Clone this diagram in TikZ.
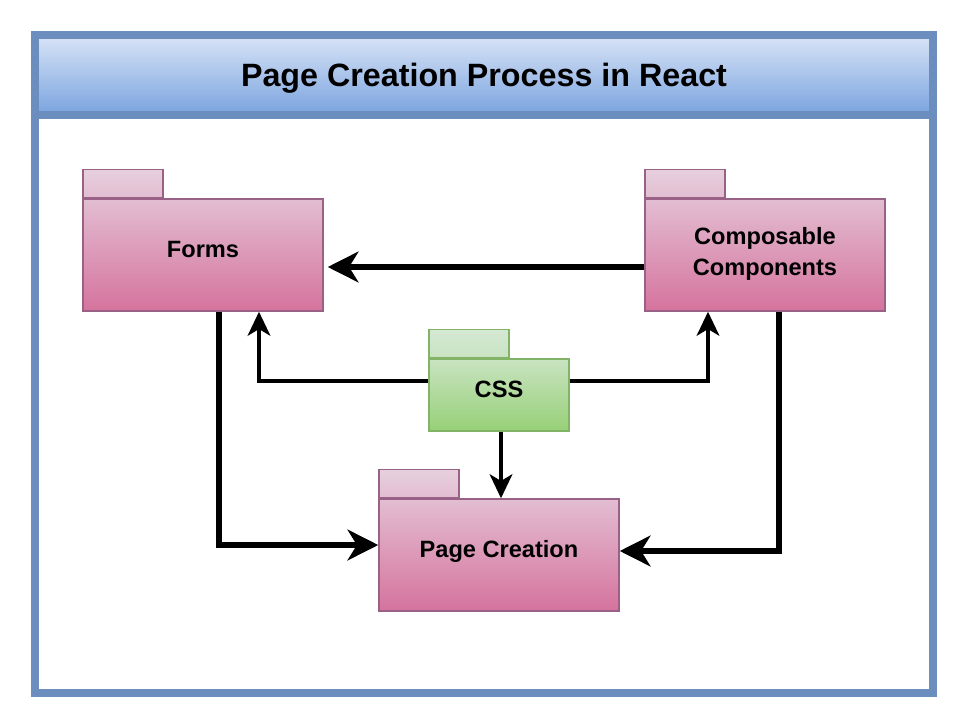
\documentclass[tikz,border=0pt]{standalone}
\usepackage{fontspec}
\setmainfont{Liberation Sans}
\usetikzlibrary{arrows.meta}
\definecolor{frameblue}{HTML}{6C8EBF}
\definecolor{titletop}{HTML}{D4E1F5}
\definecolor{titlebot}{HTML}{7EA6E0}
\definecolor{pkgline}{HTML}{996185}
\definecolor{pkgtop}{HTML}{E6D0DE}
\definecolor{pkgbot}{HTML}{D5739D}
\definecolor{cssline}{HTML}{82B366}
\definecolor{csstop}{HTML}{D5E8D4}
\definecolor{cssbot}{HTML}{97D077}
\tikzset{
  frameline/.style={draw=frameblue, line width=6pt},
  titlebar/.style={rectangle, minimum width=667.5pt, minimum height=54pt, top color=titletop, bottom color=titlebot, text height=17.4pt, text depth=0pt, font=\fontsize{24.2}{28}\selectfont\bfseries},
  pkgbody/.style={rectangle, draw=pkgline, line width=1.1pt, minimum width=180pt, minimum height=84pt, top color=pkgtop!80!pkgbot, bottom color=pkgbot},
  pkgtab/.style={rectangle, draw=pkgline, line width=1.1pt, minimum width=60pt, minimum height=21pt, top color=pkgtop, bottom color=pkgtop!80!pkgbot, anchor=south west},
  cssbody/.style={rectangle, draw=cssline, line width=1.1pt, minimum width=105pt, minimum height=54pt, top color=csstop!80!cssbot, bottom color=cssbot},
  csstab/.style={rectangle, draw=cssline, line width=1.1pt, minimum width=60pt, minimum height=21pt, top color=csstop, bottom color=csstop!80!cssbot, anchor=south west},
  pkgtext/.style={yshift=4.3pt, text height=12.7pt, text depth=0pt, font=\fontsize{17.7}{23.8}\selectfont\bfseries},
  pkgtwolines/.style={yshift=0.75pt, align=center, font=\fontsize{17.7}{23.8}\selectfont\bfseries},
  bigarrow/.style={line width=4pt, -{Stealth[length=23pt, width=23pt, inset=7pt]}},
  smallarrow/.style={line width=2.8pt, -{Stealth[length=18pt, width=17pt, inset=5pt]}}
}
\begin{document}
\begin{tikzpicture}[x=0.75pt,y=-0.75pt]
\fill[white] (0,0) rectangle (968,728);
% title bar and frame
\node[titlebar] (title) at (484,75) {Page Creation Process in React};
\draw[frameline] (35,35) rectangle (933,693);
\draw[frameline] (35,115) -- (933,115);
% packages
\node[pkgbody, label={[pkgtext]center:Forms}] (forms) at (203,255) {};
\node[pkgtab] (formstab) at (forms.north west) {};
\node[pkgbody, label={[pkgtwolines]center:{Composable\\Components}}] (comp) at (765,255) {};
\node[pkgtab] (comptab) at (comp.north west) {};
\node[cssbody, label={[pkgtext]center:CSS}] (css) at (499,395) {};
\node[csstab] (csstab) at (css.north west) {};
\node[pkgbody, label={[pkgtext]center:Page Creation}] (page) at (499,555) {};
\node[pkgtab] (pagetab) at (page.north west) {};
% connectors
\draw[bigarrow] ([yshift=-9pt]comp.west) -- ([yshift=-9pt,xshift=3pt]forms.east);
\draw[smallarrow] ([yshift=10.5pt]css.west) -| ([xshift=42pt]forms.south);
\draw[smallarrow] ([yshift=10.5pt]css.east) -| ([xshift=-42.75pt]comp.south);
\draw[smallarrow] ([xshift=1.5pt]css.south) -- ([xshift=1.5pt]page.north);
\draw[bigarrow] ([xshift=12pt]forms.south) |- ([yshift=7.5pt]page.west);
\draw[bigarrow] ([xshift=10.5pt]comp.south) |- ([yshift=3pt]page.east);
\end{tikzpicture}
\end{document}
